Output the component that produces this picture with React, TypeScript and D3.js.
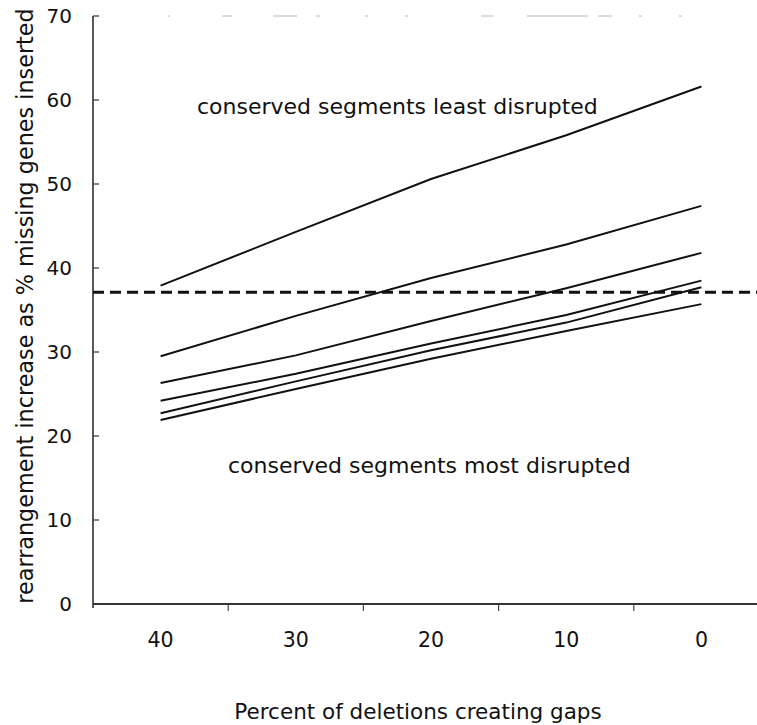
import React from "react";
import * as d3 from "d3";

const categories = ["40", "30", "20", "10", "0"];
const yTicks = [0, 10, 20, 30, 40, 50, 60, 70];
const series1 = [37.9, 44.3, 50.6, 55.8, 61.6];
const series2 = [29.5, 34.3, 38.8, 42.8, 47.4];
const series3 = [26.3, 29.6, 33.7, 37.6, 41.8];
const series4 = [24.2, 27.4, 31.0, 34.4, 38.5];
const series5 = [22.7, 26.5, 30.2, 33.5, 37.7];
const series6 = [21.9, 25.6, 29.2, 32.5, 35.7];
const thresholdValue = 37.1;
const allSeries = [series1, series2, series3, series4, series5, series6];

const W = 757;
const H = 725;
const FONT = "DejaVu Sans, Verdana, sans-serif";

export default function App() {
  const x = d3.scaleBand<string>().domain(categories).range([93, 769]).padding(0);
  const y = d3.scaleLinear().domain([0, 70]).range([604, 16]);
  const cx = (c: string) => (x(c) as number) + x.bandwidth() / 2;
  const line = d3
    .line<number>()
    .x((_, i) => cx(categories[i]))
    .y((v) => y(v));

  const x0 = x.range()[0];
  const bounds = categories.map((c) => x(c) as number).slice(1);

  return (
    <svg
      width={W}
      height={H}
      style={{ position: "absolute", left: 0, top: 0, background: "#fff" }}
      fontFamily={FONT}
    >
      <rect x={0} y={0} width={W} height={H} fill="#fff" />
      {/* faint scan remnant at top */}
      <line
        x1={x0}
        x2={W}
        y1={y(70)}
        y2={y(70)}
        stroke="#b8b8b8"
        strokeWidth={1}
        strokeDasharray="0 75 2 52 10 41 24 19 4 45 3 37 3 73 12 34 61 10 14 27 3 37 3 200"
      />
      {/* y axis */}
      <line x1={x0} x2={x0} y1={y(70)} y2={y(0) + 4} stroke="#222" strokeWidth={1.5} />
      {yTicks.map((t) => (
        <g key={t}>
          <line x1={x0} x2={x0 + 6} y1={y(t)} y2={y(t)} stroke="#333" strokeWidth={1.2} />
          <text
            x={72}
            y={y(t)}
            dy="0.36em"
            textAnchor="end"
            fontSize={20}
            fill="#111"
          >
            {t}
          </text>
        </g>
      ))}
      {/* x axis */}
      <line x1={x0} x2={W} y1={y(0)} y2={y(0)} stroke="#333" strokeWidth={1.8} />
      {bounds.map((b, i) => (
        <line key={i} x1={b} x2={b} y1={y(0)} y2={y(0) + 7} stroke="#444" strokeWidth={1.2} />
      ))}
      {categories.map((c) => (
        <text
          key={c}
          x={cx(c)}
          y={640}
          dy="0.36em"
          textAnchor="middle"
          fontSize={20.5}
          fill="#111"
        >
          {c}
        </text>
      ))}
      {/* threshold dashed */}
      <line
        x1={x0}
        x2={W}
        y1={y(thresholdValue)}
        y2={y(thresholdValue)}
        stroke="#111"
        strokeWidth={3}
        strokeDasharray="11 6"
      />
      {/* series lines */}
      {allSeries.map((s, i) => (
        <path key={i} d={line(s) || ""} fill="none" stroke="#111" strokeWidth={2} />
      ))}
      {/* annotations */}
      <text x={197} y={106} dy="0.36em" fontSize={22} fill="#111">
        conserved segments least disrupted
      </text>
      <text x={228} y={465} dy="0.36em" fontSize={22} fill="#111">
        conserved segments most disrupted
      </text>
      {/* axis titles */}
      <text
        transform={`translate(25, 306) rotate(-90)`}
        textAnchor="middle"
        dy="0.36em"
        fontSize={22.3}
        fill="#111"
      >
        rearrangement increase as % missing genes inserted
      </text>
      <text x={418} y={711} dy="0.36em" textAnchor="middle" fontSize={21.5} fill="#111">
        Percent of deletions creating gaps
      </text>
    </svg>
  );
}
